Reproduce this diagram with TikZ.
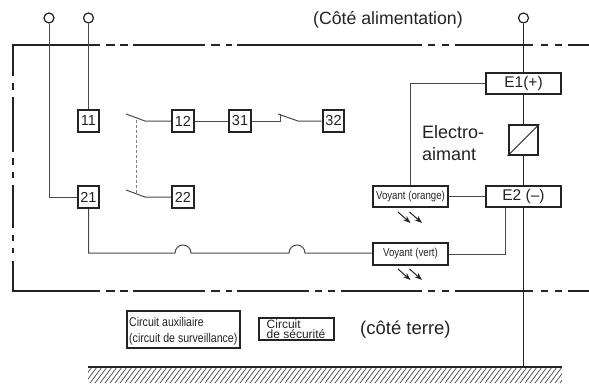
\documentclass[tikz,border=0pt]{standalone}
\usepackage{fontspec}
\setmainfont{Liberation Sans}
\newfontfamily\condfont[FakeStretch=0.84]{Liberation Sans}
\usetikzlibrary{arrows.meta}
\definecolor{ink}{HTML}{232323}
\definecolor{wirec}{HTML}{4A4A4A}
\tikzset{
  x=1pt,y=-1pt,
  termbox/.style={draw=ink,line width=2.4pt,fill=white,inner sep=0pt,text=ink,font=\fontsize{14.5}{16}\selectfont,minimum width=21.5pt,minimum height=22pt},
  ebox/.style={termbox,minimum width=75.5pt,minimum height=21.5pt,font=\fontsize{15.5}{17}\selectfont},
  lampbox/.style={termbox,minimum width=75pt,minimum height=21.5pt,font=\condfont\fontsize{11.5}{13}\selectfont},
  wire/.style={draw=wirec,line width=1pt},
  mainwire/.style={draw=ink,line width=1pt},
  frameline/.style={draw=ink,line width=2pt},
  terminal/.style={circle,draw=ink,line width=1.2pt,fill=white,minimum size=10pt,inner sep=0pt},
  lbl/.style={text=ink,inner sep=0pt,anchor=base west},
  light/.style={draw=ink,line width=1pt,-{Stealth[length=7.5pt,width=5.5pt]}},
}
\begin{document}
\begin{tikzpicture}
\useasboundingbox (0,0) rectangle (589,383);
% frame
\foreach \a/\b in {133/205,211/220,226/232,237/422,428/435,442/449,455/533,541/548,555/562,568/589,106/115,120/128}
  \draw[frameline] (\a,45) -- (\b,45);
\foreach \a/\b in {133/205,211/220,226/232,237/309,315/322,328/335,341/422,428/435,442/449,455/533,541/548,555/562,568/589,106/115,120/128}
  \draw[frameline] (\a,291) -- (\b,291);
\draw[frameline] (13,76) -- (13,45) -- (100,45);
\draw[frameline] (13,261) -- (13,291) -- (100,291);
\foreach \a/\b in {83/90,97/152,158/165,172/178,185/228,235/241,248/253}
  \draw[frameline] (13,\a) -- (13,\b);
% nodes
\node[terminal] (t1) at (49,18) {};
\node[terminal] (t2) at (88.5,18) {};
\node[terminal] (t3) at (523.5,18) {};
\node[termbox] (b11) at (88.5,121) {11};
\node[termbox] (b12) at (183,121) {12};
\node[termbox] (b31) at (240,121) {31};
\node[termbox] (b32) at (333.5,121) {32};
\node[termbox] (b21) at (88.5,197) {21};
\node[termbox] (b22) at (183,197) {22};
\node[ebox] (e1) at (523.5,83.5) {E1(+)};
\node[ebox] (e2) at (523.5,196.5) {E2 (–)};
\node[draw=ink,line width=2.4pt,fill=white,minimum width=29.5pt,minimum height=29.5pt,inner sep=0pt] (coil) at (523.5,140) {};
\draw[ink,line width=0.9pt] (coil.south west) -- (coil.north east);
\node[lampbox] (vo) at (410.5,196.5) {Voyant (orange)};
\node[lampbox] (vv) at (410.5,254) {Voyant (vert)};
\coordinate (gnd) at (523.5,367);
\coordinate (s1a) at (126,114);
\coordinate (s1b) at (145,121);
\coordinate (s2a) at (126,190);
\coordinate (s2b) at (145,197);
\coordinate (s3a) at (280,121);
\coordinate (s3t) at (280,114);
\coordinate (s3b) at (278,114);
\coordinate (s3c) at (298,121);
% wires
\draw[wire] (t1) |- (b21);
\draw[wire] (t2) -- (b11);
\draw[mainwire] (t3) -- (e1);
\draw[mainwire] (e1) -- (coil);
\draw[mainwire] (coil) -- (e2);
\draw[mainwire] (e2) -- (gnd);
\draw[wire] (e1.west) -| (vo.north -| 410,0);
\draw[wire] (vo) -- (e2);
\draw[wire] (e2.south -| 505,0) |- (vv.east);
\draw[wire] (s1a) -- (s1b) -- (b12);
\draw[wire] (s2a) -- (s2b) -- (b22);
\draw[wire] (b12) -- (b31);
\draw[wire] (b31) -- (s3a) -- (s3t);
\draw[wire] (s3b) -- (s3c) -- (b32);
\draw[draw=gray,line width=1pt,dash pattern=on 3pt off 2pt] (136,120) -- (136,193);
\draw[wire] (b21.south) -- (88.5,253) -- (175,253) arc[start angle=180,end angle=360,radius=8] -- (289,253) arc[start angle=180,end angle=360,radius=8] -- (vv.west |- 0,253);
% light arrows
\foreach \yy in {212,269} {
  \draw[light] (398,\yy) -- (410.5,\yy+11);
  \draw[light] (409.5,\yy) -- (422,\yy+11);
}
% ground
\begin{scope}
\clip (88,367) rectangle (562,383);
\foreach \i in {0,...,96}
  \draw[wirec,line width=0.7pt] (80+\i*5,383) -- (80+\i*5+12,367);
\end{scope}
\draw[ink,line width=2pt] (88,367) -- (562,367);
% labels
\node[lbl,font=\fontsize{17.7}{20}\selectfont] (tc) at (313,24) {(Côté alimentation)};
\node[lbl,font=\fontsize{18}{21}\selectfont] (te1) at (422,138) {Electro-};
\node[lbl,font=\fontsize{18}{21}\selectfont] (te2) at (422,160) {aimant};
\node[lbl,font=\fontsize{18.5}{21}\selectfont] (tt) at (360,334) {(côté terre)};
\node[draw=ink,line width=2.4pt,minimum width=113pt,minimum height=37.5pt,inner sep=0pt] (ca) at (183.5,329.5) {};
\node[lbl,font=\condfont\fontsize{12.6}{14}\selectfont] (ca1) at (129,326) {Circuit auxiliaire};
\node[lbl,font=\condfont\fontsize{12.6}{14}\selectfont] (ca2) at (129,342) {(circuit de surveillance)};
\node[draw=ink,line width=2.4pt,minimum width=75.5pt,minimum height=22pt,inner sep=0pt] (cs) at (296.5,329) {};
\node[text=ink,inner sep=0pt,anchor=west,align=left,font=\fontsize{12}{10}\selectfont] (cs1) at (266.5,329) {Circuit\\de sécurité};
\end{tikzpicture}
\end{document}
